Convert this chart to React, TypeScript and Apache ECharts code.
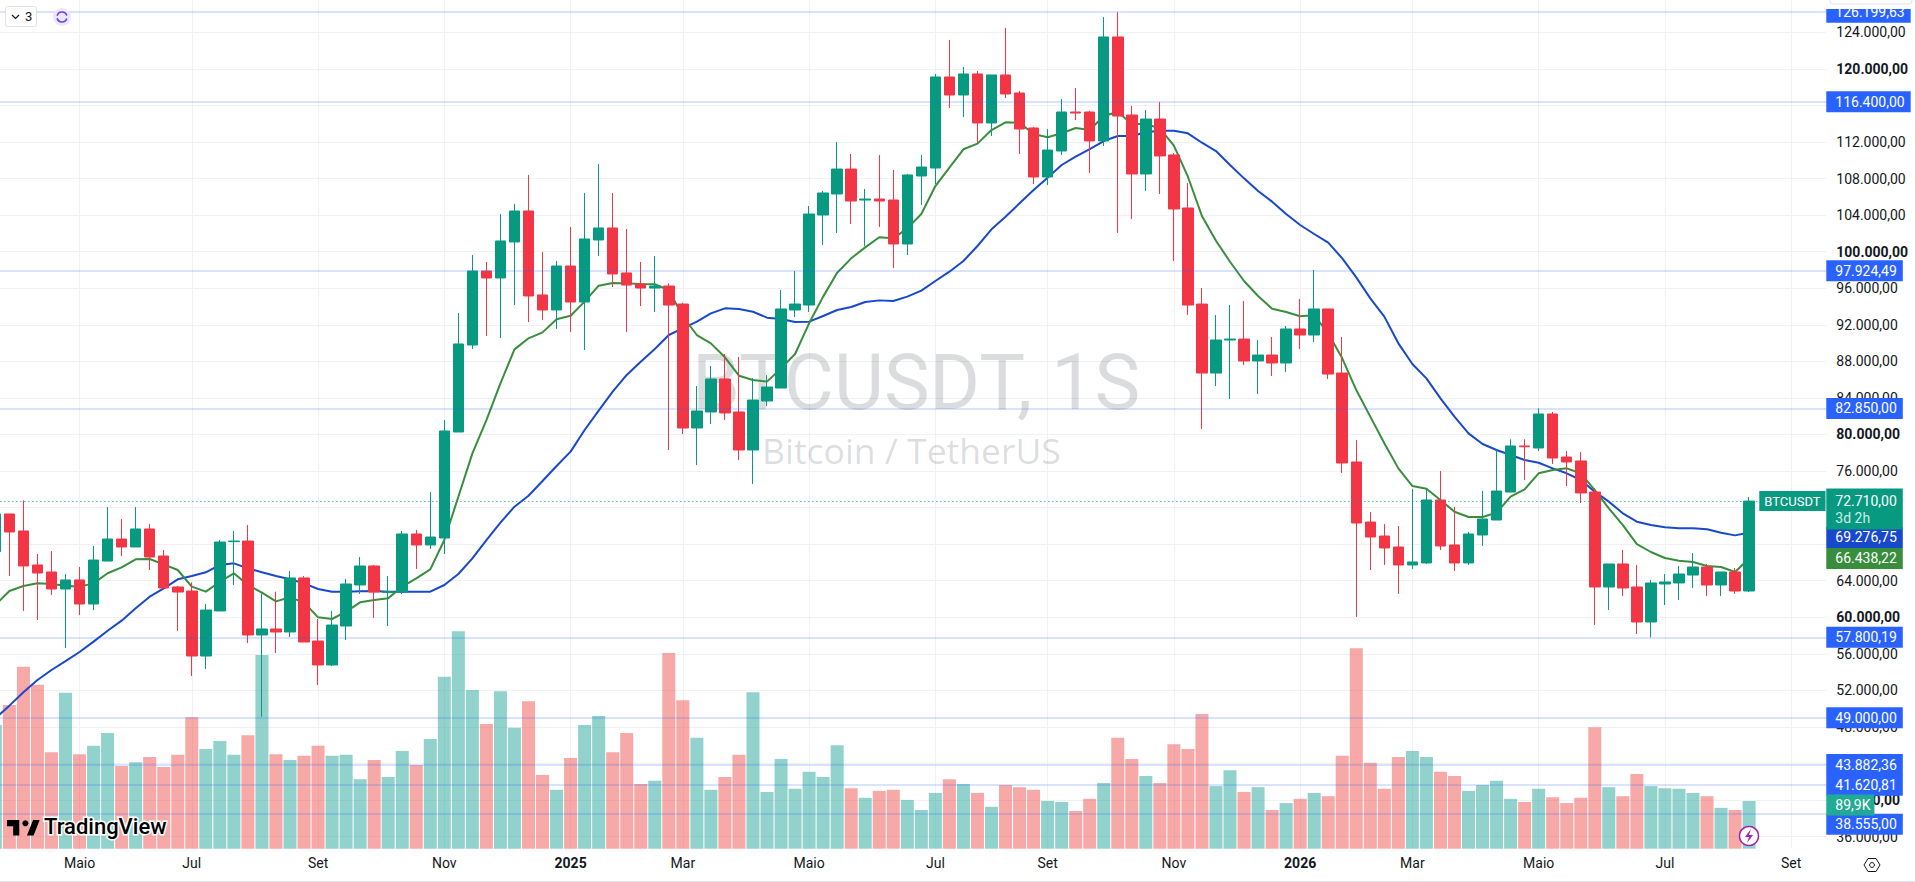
import React, { useEffect, useRef } from "react";
import * as echarts from "echarts";

// Weekly candles: [open, close, low, high]
const candles: number[][] = [
  [67180,71300,67180,71300],[71300,69330,64510,71300],[69440,65610,60690,72790],[65720,64840,59700,66920],
  [64950,63090,62440,67250],[63090,64080,56640,64730],[64080,61450,60250,65500],[61450,66260,60790,67800],
  [66150,68560,66150,72060],[68560,67690,66700,70750],[67690,69660,67690,72060],[69660,66590,65170,70200],
  [66700,63200,63200,67360],[63310,62760,58500,63420],[62870,55760,53570,63820],[55760,60790,54340,61450],
  [60690,68230,60690,68450],[68270,68340,63530,69440],[68340,58060,57180,70090],[58060,58720,49120,62620],
  [58720,58390,56090,62800],[58390,64300,57840,65060],[64300,57290,57290,64510],[57400,54780,52590,59810],
  [54780,59150,54670,60690],[59040,63640,57510,64190],[63530,65610,62550,66590],[65610,62760,59920,65720],
  [62730,62800,59040,64510],[62760,69110,62550,69440],[69110,67910,65280,69550],[67910,68780,67470,73700],
  [68670,80380,66920,81580],[80270,89900,80270,93290],[89790,97880,89350,99630],[97880,97120,90770,98870],
  [97120,101170,90550,104120],[101060,104450,94160,105210],[104450,95150,92300,108390],[95260,93620,92520,99960],
  [93620,98430,91540,98980],[98430,94490,91210,102700],[94490,101390,89240,106420],[101280,102590,99530,109590],
  [102590,97560,96130,106420],[97670,96350,91210,102480],[96460,96020,94050,98870],[96020,96240,93400,99530],
  [96240,94160,78300,96530],[94270,80710,80050,94420],[80710,82570,76660,85300],[82460,86070,81140,87490],
  [86070,82350,81580,88800],[82460,78300,77200,88470],[78300,83770,74580,86180],[83660,85190,83110,86500],
  [85080,93730,85080,95800],[93620,94270,92850,97880],[94160,104120,93400,105000],[104010,106420,100730,106640],
  [106310,109040,102040,112000],[109040,105540,103030,110690],[105650,105760,100620,106860],[105760,105540,102700,110580],
  [105650,100840,98210,108930],[100840,108390,99630,108500],[108280,109260,105110,110580],[109150,119110,107400,119440],
  [119110,117140,115720,123160],[117140,119440,114730,120200],[119440,114080,111890,119770],[114080,119330,112650,119330],
  [119330,117250,116810,124470],[117360,113420,110690,117580],[113530,108170,107400,113640],[108170,111120,107290,113420],
  [111010,115280,110580,116700],[115280,115170,114400,117910],[115280,112110,108610,115390],[112110,123490,111560,125670],
  [123490,114840,102040,126199.63],[114950,108500,103570,115940],[108500,114510,106640,115500],[114510,110470,106310,116370],
  [110580,104670,98980,110790],[104780,94160,93070,107510],[94270,86720,80600,96020],[86720,90330,85300,93070],
  [90330,90440,83880,94160],[90440,88040,87600,94600],[88040,88690,84430,90330],[88690,87820,86400,90660],
  [87820,91540,86830,91870],[91540,90880,89350,94820],[90880,93730,90120,97990],[93730,86610,86070,93730],
  [86720,76880,75780,90660],[76990,70310,60030,79390],[70420,68780,65170,71520],[68890,67580,65720,70200],
  [67690,65720,62550,69980],[65720,66050,65280,74030],[65940,72830,65830,74030],[72830,67800,67360,76000],
  [67910,65940,65060,72060],[65940,69110,65720,69330],[69000,70750,67800,73810],[70640,73810,70640,78300],
  [73700,78740,73700,79470],[78740,78660,75020,79470],[78520,82240,78190,82850],[82240,77420,76770,82460],
  [77530,76990,74360,78190],[77100,73600,72500,78080],[73700,63310,59150,74140],[63310,65830,60790,65830],
  [65830,63200,62330,67360],[63310,59480,58170,65720],[59480,63750,57800.19,64080],[63640,63860,61340,64730],
  [63750,64730,61890,65610],[64620,65500,63200,67030],[65500,63530,62330,65830],[63530,64950,62330,64950],
  [64950,62870,62550,65390],[62870,72710,62760,73160],
];

const volumesK = [
  233,271,343,309,182,294,178,194,218,156,163,173,154,177,248,188,203,177,214,365,178,167,175,194,175,177,131,167,135,184,158,207,
  324,410,299,235,297,228,278,139,111,171,233,250,182,218,122,128,369,280,209,111,135,177,295,107,169,113,145,135,195,114,96,109,
  111,92,73,105,131,122,105,79,120,116,111,90,88,71,94,124,209,169,137,124,197,188,254,118,148,107,116,73,86,94,105,99,175,378,
  162,113,173,184,173,145,137,109,120,128,94,88,113,97,86,96,229,116,99,141,118,114,113,105,99,77,73,89.9,
];

const emaFast = [
  61340,62870,63420,63710,63640,63460,63350,63710,64810,65460,66340,66370,65790,65170,63350,62800,63890,64810,63530,62690,61740,
  62180,61630,59990,59810,60610,61630,61890,62070,63350,64260,65240,68450,73190,77930,81580,85590,89310,90520,91170,92600,92990,
  94530,96280,96570,96530,96460,96430,95800,92890,90880,89970,88440,86430,85960,85780,87230,88800,92160,95080,97700,99270,100470,
  101570,101460,102550,104120,107180,109190,111200,111820,113310,114150,114110,112870,112510,112950,113530,113310,114840,115280,
  113970,113970,113490,111600,108200,103900,101200,98900,96790,95150,93760,93400,92930,93030,91060,88330,84860,81950,79030,76290,
  74360,74070,72830,71550,70970,70970,71440,73190,74000,75750,76110,76290,75750,73920,71920,70090,68010,67140,66480,66190,66050,
  65610,65500,64950,66438.22,
];

const emaSlow = [
  48940,50330,51790,53130,54230,55210,56200,57330,58530,59630,60980,62250,63170,64150,64510,64920,65720,65900,65350,64920,64510,
  64150,63710,63090,62800,62800,62840,62870,62800,62800,62800,62800,63530,64730,66450,68450,70350,72100,73300,74910,76550,78120,
  80490,82600,84680,86510,87960,89350,90880,91610,92340,93250,93800,93730,93430,92780,92630,92300,92340,92960,93620,93950,94490,
  94670,94600,95080,95730,96790,97810,98980,100620,102440,103830,105290,106750,108100,109480,110390,111230,112100,112650,112650,
  113060,113240,113240,112950,111920,111010,109480,108020,106640,105470,104120,102920,101930,100980,99270,97190,94890,92890,89970,
  87710,86140,83950,81950,80120,78960,78300,77750,77210,76910,76290,75750,75020,73740,72650,71370,70460,70090,69840,69730,69730,
  69620,69250,68960,69276.75,
];

const categories = Array.from({ length: 131 }, (_, i) => "W" + i);
const monthIndexes = [6, 14, 23, 32, 41, 49, 58, 67, 75, 84, 93, 101, 110, 119, 128];
const monthLabels = ["Maio", "Jul", "Set", "Nov", "2025", "Mar", "Maio", "Jul", "Set", "Nov", "2026", "Mar", "Maio", "Jul", "Set"];
const priceTicks = [36000,40000,44000,48000,52000,56000,60000,64000,68000,72000,76000,80000,84000,88000,92000,96000,100000,104000,108000,112000,116000,120000,124000];
const levels = [126199.63, 116400, 97924.49, 82850, 57800.19, 49000, 43882.36, 41620.81, 38555];
const lastPrice = 72710;
const countdown = "3d 2h";
const symbol = "BTCUSDT";
const volumeLabel = "89,9K";
const watermarkTitle = "BTCUSDT, 1S";
const watermarkSub = "Bitcoin / TetherUS";

const UP = "#089981";
const DOWN = "#F23645";
const FONT = "Roboto";

const money = (v: number) => {
  const [a, b] = v.toFixed(2).split(".");
  return a.replace(/\B(?=(\d{3})+$)/g, ".") + "," + b;
};

echarts.graphic.registerShape("tvMark", echarts.graphic.extendPath("M14 6H2v6h6v9h6V6zM28 21h-6.5l6-15h6.5l-6 15z", {}) as any);
echarts.graphic.registerShape("bolt", echarts.graphic.extendPath("M6 0L0 8h4l-2 6 6-8H4z", {}) as any);

export default function App() {
  const ref = useRef<HTMLDivElement>(null);
  useEffect(() => {
    document.body.style.margin = "0";
    document.body.style.overflow = "hidden";
    const chart = echarts.init(ref.current!, null, { renderer: "svg" });
    const tag = (color: string, extra: any = {}) => ({
      show: true,
      position: "end",
      distance: 0,
      color: "#fff",
      fontFamily: FONT,
      fontSize: 14,
      backgroundColor: color,
      padding: [4, 6, 3, 9],
      ...extra,
    });
    const hiddenLine = { color: "rgba(0,0,0,0)", width: 0 };
    chart.setOption({
      animation: false,
      backgroundColor: "#ffffff",
      grid: { left: -11.65, top: 0, width: 1837.93, height: 848.7, outerBoundsMode: "none" },
      xAxis: {
        type: "category",
        data: categories,
        boundaryGap: true,
        axisLine: { show: false },
        axisTick: { show: false },
        splitLine: {
          show: true,
          alignWithLabel: true,
          interval: (i: number) => monthIndexes.includes(i),
          lineStyle: { color: "#f0f1f4", width: 1 },
        },
        axisLabel: {
          interval: (i: number) => monthIndexes.includes(i),
          margin: 7,
          color: "#131722",
          fontFamily: FONT,
          fontSize: 14,
          formatter: (_: string, i: number) => {
            const t = monthLabels[monthIndexes.indexOf(i)] ?? "";
            return /^\d+$/.test(t) ? `{b|${t}}` : t;
          },
          rich: { b: { fontWeight: "bold", fontFamily: FONT, fontSize: 14, color: "#131722" } },
        },
      },
      yAxis: [
        {
          type: "value",
          position: "right",
          min: 34678,
          max: 127534,
          axisLine: { show: false },
          axisTick: { show: false, customValues: priceTicks },
          splitLine: { show: true, lineStyle: { color: "#f0f1f4", width: 1 } },
          axisLabel: {
            customValues: priceTicks,
            margin: 10,
            color: "#131722",
            fontFamily: FONT,
            fontSize: 14,
            formatter: (v: number) => (v % 20000 === 0 ? `{b|${money(v)}}` : money(v)),
            rich: { b: { fontWeight: "bold", fontFamily: FONT, fontSize: 14, color: "#131722" } },
          },
        },
        { type: "value", min: 0, max: 1600, show: false, splitLine: { show: false } },
      ],
      series: [
        {
          type: "bar",
          name: "Volume",
          yAxisIndex: 1,
          z: 2,
          barWidth: 13,
          data: volumesK.map((v, i) => ({
            value: v,
            itemStyle: { color: candles[i][1] >= candles[i][0] ? "rgba(38,166,154,.5)" : "rgba(239,83,80,.5)" },
          })),
        },
        {
          type: "line",
          name: "MM lenta",
          z: 3,
          data: emaSlow,
          showSymbol: false,
          symbol: "none",
          lineStyle: { color: "#1848CC", width: 2 },
          markLine: {
            silent: true,
            symbol: "none",
            animation: false,
            data: [
              {
                yAxis: emaSlow[emaSlow.length - 1],
                lineStyle: hiddenLine,
                label: { ...tag("#1848CC"), formatter: money(emaSlow[emaSlow.length - 1]), offset: [0, 5] },
              },
            ],
          },
        },
        {
          type: "line",
          name: "MM rapida",
          z: 3,
          data: emaFast,
          showSymbol: false,
          symbol: "none",
          lineStyle: { color: "#388E3C", width: 2 },
          markLine: {
            silent: true,
            symbol: "none",
            animation: false,
            data: [
              ...levels.map((v) => ({
                yAxis: v,
                lineStyle: { color: "rgba(41,98,255,.18)", width: 2, type: "solid" },
                label: { ...tag("#2962FF"), formatter: money(v), offset: v === 38555 ? [0, 11] : [0, 0] },
              })),
              {
                yAxis: emaFast[emaFast.length - 1],
                lineStyle: hiddenLine,
                label: { ...tag("#388E3C"), formatter: money(emaFast[emaFast.length - 1]) },
              },
              {
                yAxis: lastPrice,
                lineStyle: { color: UP, width: 1, type: [1, 3] },
                label: {
                  ...tag(UP),
                  formatter: `${money(lastPrice)}\n{s|${countdown}}`,
                  lineHeight: 16,
                  offset: [0, 8],
                  rich: { s: { color: "#cfeee7", fontFamily: FONT, fontSize: 14, lineHeight: 18 } },
                },
              },
              {
                yAxis: lastPrice,
                lineStyle: hiddenLine,
                label: {
                  ...tag(UP),
                  formatter: symbol,
                  padding: [4, 5, 3, 5],
                  offset: [-67, 0],
                  fontSize: 13,
                },
              },
            ],
          },
        },
        {
          type: "candlestick",
          name: "BTCUSDT",
          z: 4,
          barWidth: 11,
          data: candles,
          itemStyle: { color: UP, color0: DOWN, borderColor: UP, borderColor0: DOWN, borderWidth: 1 },
        },
        {
          type: "line",
          name: "Volume tag",
          yAxisIndex: 1,
          z: 5,
          data: [],
          symbol: "none",
          markLine: {
            silent: true,
            symbol: "none",
            animation: false,
            data: [
              {
                yAxis: 89.9,
                lineStyle: hiddenLine,
                label: { ...tag("#22AB94"), formatter: volumeLabel, offset: [0, 4], padding: [4, 4, 3, 9] },
              },
            ],
          },
        },
      ],
      graphic: {
        elements: [
          {
            type: "text", z: 1, silent: true, x: 692, y: 344,
            style: { text: watermarkTitle, font: '77px Roboto', fill: "rgba(42,46,57,.17)" },
          },
          {
            type: "text", z: 1, silent: true, x: 762, y: 432,
            style: { text: watermarkSub, font: '35.5px "Open Sans"', fill: "rgba(42,46,57,.17)" },
          },
          { type: "rect", z: 50, silent: true, shape: { x: 1826, y: 0, width: 89, height: 9 }, style: { fill: "#fff" } },
          { type: "rect", z: 51, silent: true, shape: { x: 1830, y: -4, width: 82, height: 8, r: 3 }, style: { fill: "#fff", stroke: "#e0e3eb" } },
          // Top-left controls
          { type: "rect", z: 50, silent: true, shape: { x: 5.5, y: 6.5, width: 31, height: 20, r: 2 }, style: { fill: "#fff", stroke: "#e0e3eb" } },
          { type: "polyline", z: 51, silent: true, shape: { points: [[12, 15], [15.5, 18.5], [19, 15]] }, style: { fill: "none", stroke: "#131722", lineWidth: 1.2 } },
          { type: "text", z: 51, silent: true, x: 25, y: 10, style: { text: "3", font: `13px ${FONT}`, fill: "#131722" } },
          { type: "ellipse", z: 50, silent: true, shape: { cx: 62, cy: 17, rx: 9, ry: 9 }, style: { fill: "#ede7fb" } },
          { type: "arc", z: 51, silent: true, shape: { cx: 62, cy: 17, r: 5, startAngle: 0.3, endAngle: 2.9 }, style: { fill: "none", stroke: "#6b3df5", lineWidth: 1.6 } },
          { type: "arc", z: 51, silent: true, shape: { cx: 62, cy: 17, r: 5, startAngle: 3.4, endAngle: 6 }, style: { fill: "none", stroke: "#6b3df5", lineWidth: 1.6 } },
          // TradingView logo
          { type: "tvMark", z: 50, silent: true, x: 5, y: 814, scaleX: 1.02, scaleY: 1.02, style: { fill: "#000" } },
          { type: "circle", z: 50, silent: true, shape: { cx: 25.4, cy: 823.3, r: 3 }, style: { fill: "#000" } },
          {
            type: "text", z: 50, silent: true, x: 44, y: 815,
            style: { text: "TradingView", font: `500 22px ${FONT}`, fill: "#000", stroke: "#fff", lineWidth: 3 },
          },
          // Lightning badge
          { type: "circle", z: 50, silent: true, shape: { cx: 1749, cy: 836, r: 9.5 }, style: { fill: "#fff", stroke: "#9c27b0", lineWidth: 1.5 } },
          { type: "bolt", z: 51, silent: true, x: 1745, y: 829, style: { fill: "#9c27b0" } },
          // Settings icon
          {
            type: "polygon", z: 50, silent: true,
            shape: { points: [[1868, 858.5], [1876, 858.5], [1880, 865], [1876, 871.5], [1868, 871.5], [1864, 865]] },
            style: { fill: "none", stroke: "#131722", lineWidth: 1 },
          },
          { type: "circle", z: 50, silent: true, shape: { cx: 1872, cy: 865, r: 2.4 }, style: { fill: "none", stroke: "#131722", lineWidth: 1 } },
          // Bottom rule
          { type: "rect", z: 50, silent: true, shape: { x: 0, y: 881, width: 1915, height: 1 }, style: { fill: "#e0e3eb" } },
        ],
      },
    });
    return () => chart.dispose();
  }, []);
  return <div ref={ref} style={{ width: 1915, height: 882, display: "block" }} />;
}
